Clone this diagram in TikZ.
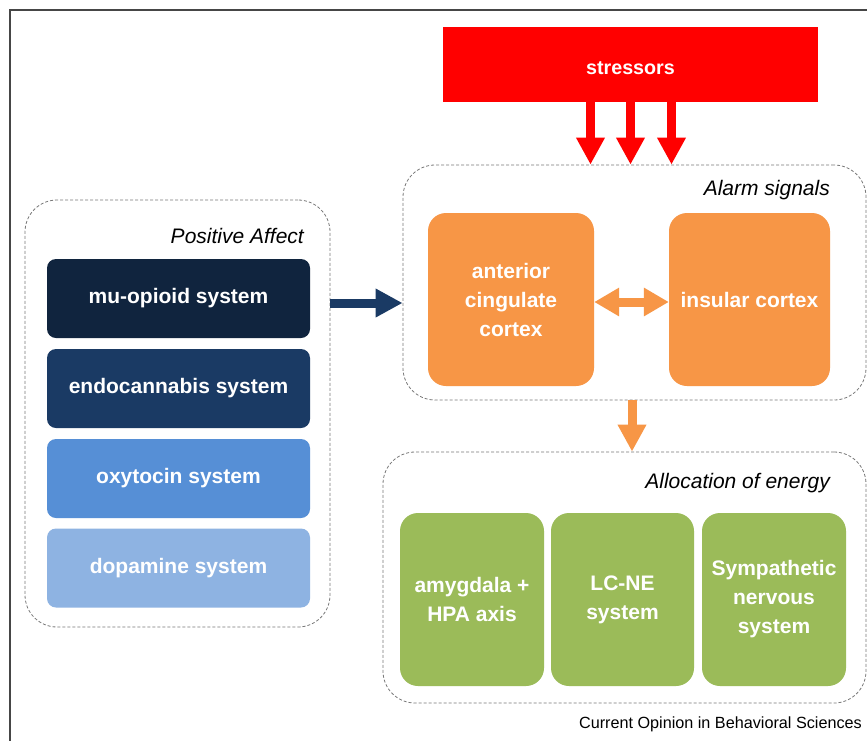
\documentclass[tikz,border=0pt]{standalone}
\usepackage{fontspec}
\setmainfont{Liberation Sans}
\usetikzlibrary{arrows.meta,calc}
\definecolor{stressred}{RGB}{255,0,0}
\definecolor{orng}{RGB}{247,150,70}
\definecolor{grn}{RGB}{155,187,89}
\definecolor{navyA}{RGB}{16,36,62}
\definecolor{navyB}{RGB}{26,58,100}
\definecolor{blueC}{RGB}{86,143,214}
\definecolor{blueD}{RGB}{142,179,226}
\definecolor{dashgray}{RGB}{120,120,120}
\definecolor{framegray}{RGB}{70,70,70}
\begin{document}
\begin{tikzpicture}[x=1pt,y=-1pt,
  solidbox/.style={rectangle, rounded corners=18pt, inner sep=0pt, align=center,
    text=white, font=\fontsize{21}{29}\selectfont\bfseries},
  bluebox/.style={solidbox, rounded corners=9pt, minimum width=263pt, minimum height=79pt},
  groupbox/.style={rectangle, rounded corners=32pt, draw=dashgray, line width=0.8pt,
    dash pattern=on 3pt off 2pt, inner sep=0pt},
  grouptitle/.style={anchor=east, inner sep=0pt, font=\fontsize{21}{24}\selectfont\itshape},
  blockarrow/.style={line width=9pt, -{Triangle[width=27pt,length=27pt]}},
  dblarrow/.style={line width=9pt, {Triangle[width=27pt,length=25pt]}-{Triangle[width=27pt,length=25pt]}}
]
\useasboundingbox (0,0) rectangle (867,740);
\fill[white] (0,0) rectangle (867,740);
% frame
\draw[line width=2pt, framegray] (10,745) -- (10,10) -- (872,10);

% group boxes
\node[groupbox, minimum width=305pt, minimum height=427pt] (pos) at (177.5,413.5) {};
\node[groupbox, minimum width=463pt, minimum height=235pt] (alarm) at (634.5,282.5) {};
\node[groupbox, minimum width=483pt, minimum height=251pt] (alloc) at (624.5,577.5) {};

\node[grouptitle] (postitle) at (304,236) {Positive Affect};
\node[grouptitle] (alarmtitle) at (830,190) {Alarm signals};
\node[grouptitle] (alloctitle) at (830,483) {Allocation of energy};

% stressors
\node[solidbox, rounded corners=0pt, fill=stressred, minimum width=375pt, minimum height=75pt] (stress) at (630.5,64.5) {};
\node[text=white, font=\fontsize{19.7}{24}\selectfont\bfseries, inner sep=0pt] (stresslabel) at (630.5,68) {stressors};

% alarm boxes
\node[solidbox, fill=orng, minimum width=166pt, minimum height=173pt] (acc) at (511,299.5) {anterior\\cingulate\\cortex};
\node[solidbox, fill=orng, minimum width=161pt, minimum height=173pt] (ins) at (749.5,299.5) {insular cortex};

% allocation boxes
\node[solidbox, fill=grn, minimum width=144pt, minimum height=173pt] (amy) at (472,599.5) {amygdala +\\HPA axis};
\node[solidbox, fill=grn, minimum width=143pt, minimum height=173pt] (lcne) at (622.5,599.5) {LC-NE\\system};
\node[solidbox, fill=grn, minimum width=144pt, minimum height=173pt] (sns) at (774,599.5) {Sympathetic\\nervous\\system};

% positive affect boxes
\node[bluebox, fill=navyA] (mu) at (178.5,298.5) {mu-opioid system};
\node[bluebox, fill=navyB] (endo) at (178.5,388.5) {endocannabis system};
\node[bluebox, fill=blueC] (oxy) at (178.5,478.5) {oxytocin system};
\node[bluebox, fill=blueD] (dopa) at (178.5,568) {dopamine system};

% arrows
\draw[blockarrow, stressred] ($(stress.south)+(-40,0)$) -- ($(stress.south |- alarm.north)+(-40,0)$);
\draw[blockarrow, stressred] (stress.south) -- (stress.south |- alarm.north);
\draw[blockarrow, stressred] ($(stress.south)+(41,0)$) -- ($(stress.south |- alarm.north)+(41,0)$);

\draw[dblarrow, orng] (acc.east |- 0,302) -- (ins.west |- 0,302);
\draw[blockarrow, orng] (alarm.south -| 632,0) -- (alloc.north -| 632,0);
\draw[blockarrow, navyB] (pos.east |- 0,303) -- (alarm.west |- 0,303);

\node[anchor=east, inner sep=0pt, font=\fontsize{16.2}{18}\selectfont] (credit) at (862,724) {Current Opinion in Behavioral Sciences};
\end{tikzpicture}
\end{document}
